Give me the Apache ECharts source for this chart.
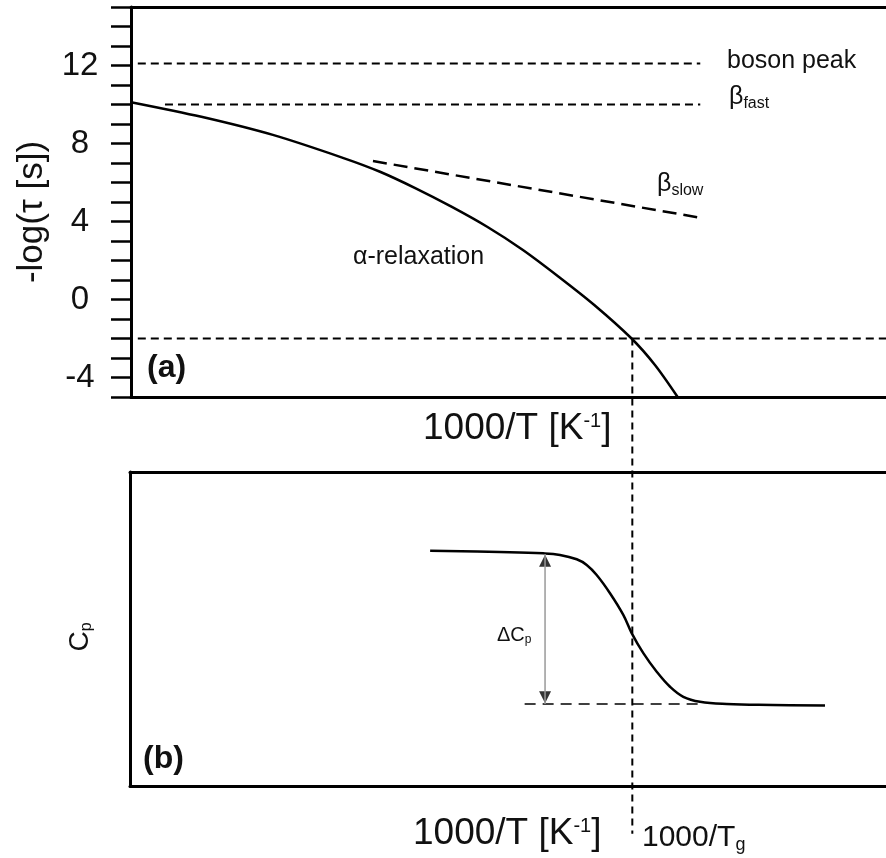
<!DOCTYPE html>
<html><head><meta charset="utf-8">
<script src="https://cdn.jsdelivr.net/npm/echarts@6/dist/echarts.min.js"></script>
<style>html,body{margin:0;padding:0;background:#fff}#c{width:886px;height:858px}</style>
</head><body><div id="c"></div>
<script>
// ---------- data (arbitrary x units 0..100) ----------
const alphaX = [0, 9.32, 18.79, 28.25, 32.98, 37.71, 42.44, 47.17, 51.91, 56.64, 61.36, 66.3, 69.4, 72.4];
const alphaY = [10.12, 9.37, 8.44, 7.24, 6.55, 5.70, 4.76, 3.73, 2.54, 1.17, -0.28, -2.0, -3.36, -5.0];
const bosonX = [0.9, 75.4];
const bosonY = 12.1;
const betaFastX = [4.5, 75.4];
const betaFastY = 10;
const betaSlowX = [32.05, 75.6];
const betaSlowY = [7.10, 4.18];
const tgLineX = [0.9, 100];
const tgLineY = -2;
const tgVertX = 66.4;
const tgVertY = [-2, -27.4];
const yTicksA = [-4, 0, 4, 8, 12];

const cpX = [39.7, 48.9, 54.67, 56.88, 59.09, 60.41, 61.73, 63.49, 65.25, 66.36, 67.90, 69.67, 71.43, 73.19, 75.40, 78.93, 85.0, 91.93];
const cpY = [7.49, 7.45, 7.41, 7.36, 7.22, 7.04, 6.72, 6.14, 5.45, 4.87, 4.23, 3.64, 3.16, 2.84, 2.68, 2.61, 2.58, 2.56];
const cpDashX = [52.2, 75.4];
const cpDashY = 2.61;
const arrowX = 54.9;
const arrowY = [7.39, 2.61];
const arrowHeadY = [7.17, 2.83];

// ---------- chart ----------
const FF = '"Liberation Sans", Arial, Helvetica, sans-serif';
const chart = echarts.init(document.getElementById('c'), null, {renderer: 'canvas'});
const pair = (xs, ys) => xs.map((x, i) => [x, Array.isArray(ys) ? ys[i] : ys]);
const dashed = (name, data, w, dash, extra) => Object.assign({
  name, type: 'line', data, showSymbol: false, symbol: 'none', silent: true,
  lineStyle: {color: '#000', width: w, type: dash}
}, extra || {});

const xAxisBase = (grid, pos) => ({
  type: 'value', gridIndex: grid, position: pos, min: 0, max: 100,
  axisLine: {show: true, onZero: false, lineStyle: {color: '#000', width: 3}},
  axisTick: {show: false}, axisLabel: {show: false}, splitLine: {show: false}
});

const txt = (x, y, text, size, extra) => ({
  type: 'text', x, y, silent: true,
  style: Object.assign({text, fontSize: size, fontFamily: FF, fill: '#111',
    align: 'left', verticalAlign: 'middle'}, extra || {})
});

const option = {
  animation: false,
  backgroundColor: '#fff',
  grid: [
    {left: 131, right: 0, top: 7, bottom: 461},
    {left: 130, right: 0, top: 472, bottom: 72}
  ],
  xAxis: [xAxisBase(0, 'bottom'), xAxisBase(0, 'top'), xAxisBase(1, 'bottom'), xAxisBase(1, 'top')],
  yAxis: [
    {type: 'value', gridIndex: 0, min: -5, max: 15, interval: 1,
     axisLine: {show: true, onZero: false, lineStyle: {color: '#000', width: 3}},
     axisTick: {show: true, inside: false, length: 20, lineStyle: {color: '#000', width: 2.5}},
     axisLabel: {formatter: v => yTicksA.indexOf(v) >= 0 ? String(v) : '', fontSize: 33,
       fontFamily: FF, color: '#111', margin: 51, align: 'center'},
     splitLine: {show: false}},
    {type: 'value', gridIndex: 1, min: 0, max: 10,
     axisLine: {show: true, onZero: false, lineStyle: {color: '#000', width: 3}},
     axisTick: {show: false}, axisLabel: {show: false}, splitLine: {show: false}}
  ],
  series: [
    {name: 'alpha', type: 'line', xAxisIndex: 0, yAxisIndex: 0, data: pair(alphaX, alphaY),
     smooth: 0.3, showSymbol: false, symbol: 'none', lineStyle: {color: '#000', width: 2.5}},
    dashed('boson', pair(bosonX, bosonY), 2, [8, 5]),
    dashed('betaFast', pair(betaFastX, betaFastY), 2, [8, 5]),
    dashed('betaSlow', pair(betaSlowX, betaSlowY), 2.5, [14, 7]),
    dashed('tgH', pair(tgLineX, tgLineY), 2, [8, 5]),
    dashed('tgV', pair([tgVertX, tgVertX], tgVertY), 2, [7, 5], {clip: false}),
    {name: 'cp', type: 'line', xAxisIndex: 2, yAxisIndex: 1, data: pair(cpX, cpY),
     smooth: 0.4, showSymbol: false, symbol: 'none',
     lineStyle: {color: '#000', width: 2.5}},
    dashed('cpDash', pair(cpDashX, cpDashY), 1.5, [11, 7], {xAxisIndex: 2, yAxisIndex: 1}),
    {name: 'arrow', type: 'line', xAxisIndex: 2, yAxisIndex: 1, data: pair([arrowX, arrowX], arrowY),
     showSymbol: false, symbol: 'none', lineStyle: {color: '#999', width: 1.5}},
    {name: 'arrowHeads', type: 'scatter', xAxisIndex: 2, yAxisIndex: 1, symbol: 'triangle',
     symbolSize: [12, 12], itemStyle: {color: '#000'},
     data: [{value: [arrowX, arrowHeadY[0]], symbolRotate: 0},
            {value: [arrowX, arrowHeadY[1]], symbolRotate: 180}]}
  ],
  graphic: [
    txt(727, 61, 'boson peak', 25),
    txt(729, 97, '{b|β}{s|fast}', 24, {rich: {
      b: {fontSize: 25, fontFamily: FF, fill: '#111', lineHeight: 30},
      s: {fontSize: 16, fontFamily: FF, fill: '#111', lineHeight: 12, verticalAlign: 'bottom'}}}),
    txt(657, 184, '{b|β}{s|slow}', 24, {rich: {
      b: {fontSize: 25, fontFamily: FF, fill: '#111', lineHeight: 30},
      s: {fontSize: 16, fontFamily: FF, fill: '#111', lineHeight: 12, verticalAlign: 'bottom'}}}),
    txt(353, 257, 'α-relaxation', 25),
    txt(423, 429, '{m|1000/T [K}{u|-1}{m|]}', 37, {rich: {
      m: {fontSize: 37, fontFamily: FF, fill: '#111', lineHeight: 36},
      u: {fontSize: 20, fontFamily: FF, fill: '#111', lineHeight: 16, verticalAlign: 'top'}}}),
    txt(413, 834, '{m|1000/T [K}{u|-1}{m|]}', 37, {rich: {
      m: {fontSize: 37, fontFamily: FF, fill: '#111', lineHeight: 36},
      u: {fontSize: 20, fontFamily: FF, fill: '#111', lineHeight: 16, verticalAlign: 'top'}}}),
    txt(642, 838, '{m|1000/T}{s|g}', 30, {rich: {
      m: {fontSize: 30, fontFamily: FF, fill: '#111', lineHeight: 32},
      s: {fontSize: 18, fontFamily: FF, fill: '#111', lineHeight: 14, verticalAlign: 'bottom'}}}),
    txt(147, 368, '(a)', 32, {fontWeight: 'bold'}),
    txt(143, 759, '(b)', 32, {fontWeight: 'bold'}),
    Object.assign(txt(32, 212, '-log(τ [s])', 35, {align: 'center'}), {rotation: Math.PI / 2}),
    Object.assign(txt(80, 637, '{c|C}{s|p}', 26, {align: 'center', rich: {
      c: {fontSize: 28, fontFamily: FF, fill: '#111', lineHeight: 30},
      s: {fontSize: 16, fontFamily: FF, fill: '#111', lineHeight: 12, verticalAlign: 'bottom'}}}),
      {rotation: Math.PI / 2}),
    txt(497, 635, '{c|ΔC}{s|p}', 20, {rich: {
      c: {fontSize: 20, fontFamily: FF, fill: '#111', lineHeight: 22},
      s: {fontSize: 12, fontFamily: FF, fill: '#111', lineHeight: 9, verticalAlign: 'bottom'}}})
  ]
};
chart.setOption(option);
</script>
</body></html>
